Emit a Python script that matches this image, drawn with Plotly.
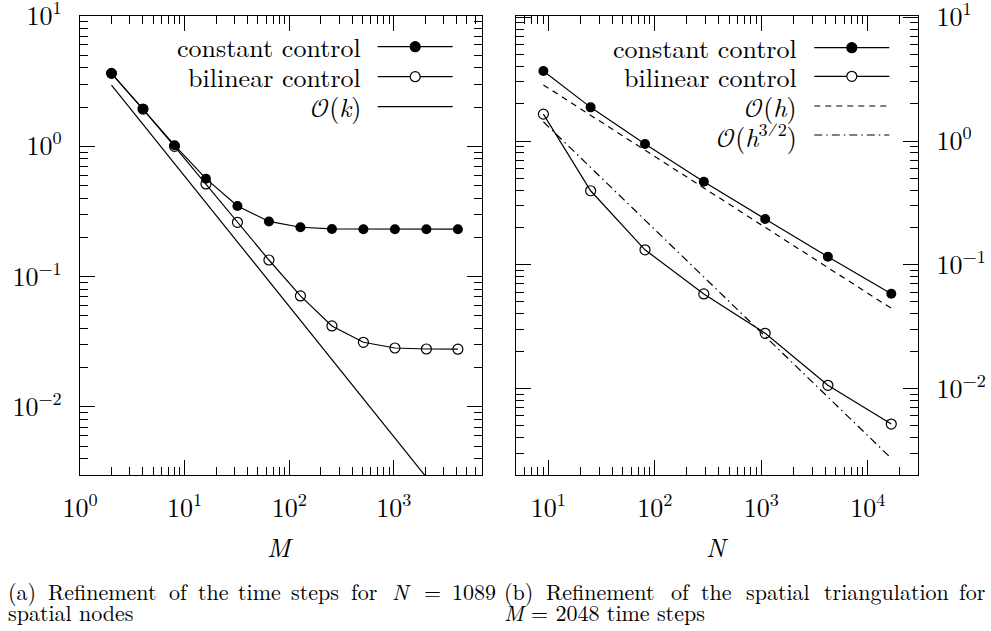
import plotly.graph_objects as go

# ---------------- data ----------------
M_steps = [2, 4, 8, 16, 32, 64, 128, 256, 512, 1024, 2048, 4096]
time_const = [3.63, 1.93, 1.02, 0.564, 0.348, 0.265, 0.239, 0.232, 0.231, 0.231, 0.231, 0.231]
time_bilin = [3.63, 1.93, 1.0, 0.514, 0.261, 0.134, 0.071, 0.0418, 0.0313, 0.0283, 0.0278, 0.0277]
ok_M = [2, 4096]
ok_vals = [2.95, 0.00144]

N_nodes = [9, 25, 81, 289, 1089, 4225, 16641]
space_const = [3.68, 1.87, 0.946, 0.469, 0.234, 0.116, 0.0583]
space_bilin = [1.65, 0.396, 0.132, 0.058, 0.0279, 0.0106, 0.00515]
oh_N = [9, 16641]
oh_vals = [2.84, 0.0444]
oh32_N = [9, 16641]
oh32_vals = [1.43, 0.00272]

x1_ticks = [1, 10, 100, 1000]
x1_text = ["10<sup>0</sup>", "10<sup>1</sup>", "10<sup>2</sup>", "10<sup>3</sup>"]
x2_ticks = [10, 100, 1000, 10000]
x2_text = ["10<sup>1</sup>", "10<sup>2</sup>", "10<sup>3</sup>", "10<sup>4</sup>"]
y_ticks = [0.01, 0.1, 1, 10]
y_text = ["10<sup>−2</sup>", "10<sup>−1</sup>", "10<sup>0</sup>", "10<sup>1</sup>"]

W, H = 991, 631
FONT = "Latin Modern Roman"
BLACK = "#000000"

def px(x):
    return x / W

def py(y):
    return (H - y) / H

def minor_vals(lo, hi):
    out = []
    for e in range(lo, hi + 1):
        for m in range(2, 10):
            out.append(m * 10 ** e)
    return out

fig = go.Figure()

line = dict(color=BLACK, width=1.2)
# left plot
fig.add_trace(go.Scatter(x=ok_M, y=ok_vals, mode="lines", line=line,
                         xaxis="x", yaxis="y", showlegend=False))
fig.add_trace(go.Scatter(x=M_steps, y=time_bilin, mode="lines+markers", line=line,
                         marker=dict(symbol="circle-open", size=10, color=BLACK, line=dict(width=1.2)),
                         xaxis="x", yaxis="y", showlegend=False))
fig.add_trace(go.Scatter(x=M_steps, y=time_const, mode="lines+markers", line=line,
                         marker=dict(symbol="circle", size=10, color=BLACK),
                         xaxis="x", yaxis="y", showlegend=False))
# right plot
fig.add_trace(go.Scatter(x=oh_N, y=oh_vals, mode="lines", line=dict(color=BLACK, width=1.2, dash="6px,5px"),
                         xaxis="x2", yaxis="y2", showlegend=False))
fig.add_trace(go.Scatter(x=oh32_N, y=oh32_vals, mode="lines",
                         line=dict(color=BLACK, width=1.2, dash="8px,4px,1.5px,4px"),
                         xaxis="x2", yaxis="y2", showlegend=False))
fig.add_trace(go.Scatter(x=N_nodes, y=space_bilin, mode="lines+markers", line=line,
                         marker=dict(symbol="circle-open", size=10, color=BLACK, line=dict(width=1.2)),
                         xaxis="x2", yaxis="y2", showlegend=False))
fig.add_trace(go.Scatter(x=N_nodes, y=space_const, mode="lines+markers", line=line,
                         marker=dict(symbol="circle", size=10, color=BLACK),
                         xaxis="x2", yaxis="y2", showlegend=False))

tickfont = dict(family=FONT, size=26, color=BLACK)
common = dict(type="log", showline=True, linecolor=BLACK, linewidth=1.2, mirror="ticks",
              ticks="inside", ticklen=15, tickwidth=1.2, tickcolor=BLACK, showgrid=False,
              zeroline=False, tickfont=tickfont, ticklabeloverflow="allow", automargin=False)

ydom = [py(475), py(16)]
fig.update_layout(
    width=W, height=H, margin=dict(l=0, r=0, t=0, b=0, autoexpand=False),
    plot_bgcolor="white", paper_bgcolor="white",
    font=dict(family=FONT, color=BLACK),
    xaxis=dict(domain=[px(80), px(481.7)], range=[0, 3.84], anchor="y",
               tickvals=x1_ticks, ticktext=x1_text,
               minor=dict(ticks="inside", ticklen=8, tickwidth=1.2, tickcolor=BLACK, tickvals=minor_vals(0, 3)),
               ticklabelstandoff=10, **common),
    yaxis=dict(domain=ydom, range=[-2.523, 1.0], anchor="x",
               tickvals=y_ticks, ticktext=y_text,
               minor=dict(ticks="inside", ticklen=8, tickwidth=1.2, tickcolor=BLACK, tickvals=minor_vals(-3, 0)),
               ticklabelstandoff=12, **common),
    xaxis2=dict(domain=[px(516), px(918.3)], range=[0.697, 4.475], anchor="y2",
                tickvals=x2_ticks, ticktext=x2_text,
                minor=dict(ticks="inside", ticklen=8, tickwidth=1.2, tickcolor=BLACK, tickvals=minor_vals(0, 4)),
                ticklabelstandoff=10, **common),
    yaxis2=dict(domain=ydom, range=[-2.70, 1.0105], anchor="x2", side="right",
                tickvals=y_ticks, ticktext=y_text,
                minor=dict(ticks="inside", ticklen=8, tickwidth=1.2, tickcolor=BLACK, tickvals=minor_vals(-3, 0)),
                ticklabelstandoff=12, **common),
)

ann = []
shapes = []

def text(x, y, s, size=26, anchor="left"):
    ann.append(dict(x=px(x), y=py(y), xref="paper", yref="paper", text=s, showarrow=False,
                    xanchor=anchor, yanchor="middle", borderpad=0,
                    font=dict(family=FONT, size=size, color=BLACK)))

def legend_row(xr, x0, x1, y, label, marker=None, dash=None):
    text(xr, y, label, anchor="right")
    shapes.append(dict(type="line", xref="paper", yref="paper", x0=px(x0), x1=px(x1), y0=py(y), y1=py(y),
                       line=dict(color=BLACK, width=1.2, dash=dash or "solid")))
    if marker:
        xc = (x0 + x1) / 2
        shapes.append(dict(type="circle", xref="paper", yref="paper", xsizemode="pixel", ysizemode="pixel",
                           xanchor=px(xc), yanchor=py(y), x0=-5, x1=5, y0=-5, y1=5,
                           fillcolor=BLACK if marker == "fill" else "white",
                           line=dict(color=BLACK, width=1.2)))

O = "<span style=\"font-family:'Latin Modern Math'\">𝒪</span>"
legend_row(361.7, 377.7, 452.7, 46.7, "constant control", marker="fill")
legend_row(361.7, 377.7, 452.7, 76.7, "bilinear control", marker="open")
legend_row(361.7, 377.7, 452.7, 106.7, O + "(<i>k</i>)")

legend_row(798.3, 814.3, 889.3, 47.7, "constant control", marker="fill")
legend_row(798.3, 814.3, 889.3, 76.3, "bilinear control", marker="open")
legend_row(798.3, 814.3, 889.3, 106, O + "(<i>h</i>)", dash="6px,5px")
legend_row(798.3, 814.3, 889.3, 135, O + "(<i>h</i><sup>3⁄2</sup>)", dash="8px,4px,1.5px,4px")

# axis titles
text(280, 546, "<i>M</i>", anchor="center")
text(717, 546, "<i>N</i>", anchor="center")

# captions
cap = 22
y1c, y2c = 590, 611
for x, w in [(6.7, "(a)"), (46.7, "Refinement"), (167.7, "of"), (197, "the"), (236.7, "time"),
             (290, "steps"), (350, "for"), (391, "<i>N</i>"), (423, "="), (451, "1089")]:
    text(x, y1c, w, size=cap)
text(6.7, y2c, "spatial nodes", size=cap)
for x, w in [(502.7, "(b)"), (545, "Refinement"), (670, "of"), (700, "the"), (745, "spatial"),
             (823.3, "triangulation"), (958.3, "for")]:
    text(x, y1c, w, size=cap)
text(503.3, y2c, "<i>M</i> = 2048 time steps", size=cap)

fig.update_layout(annotations=ann, shapes=shapes)
fig.write_html("out.html")
